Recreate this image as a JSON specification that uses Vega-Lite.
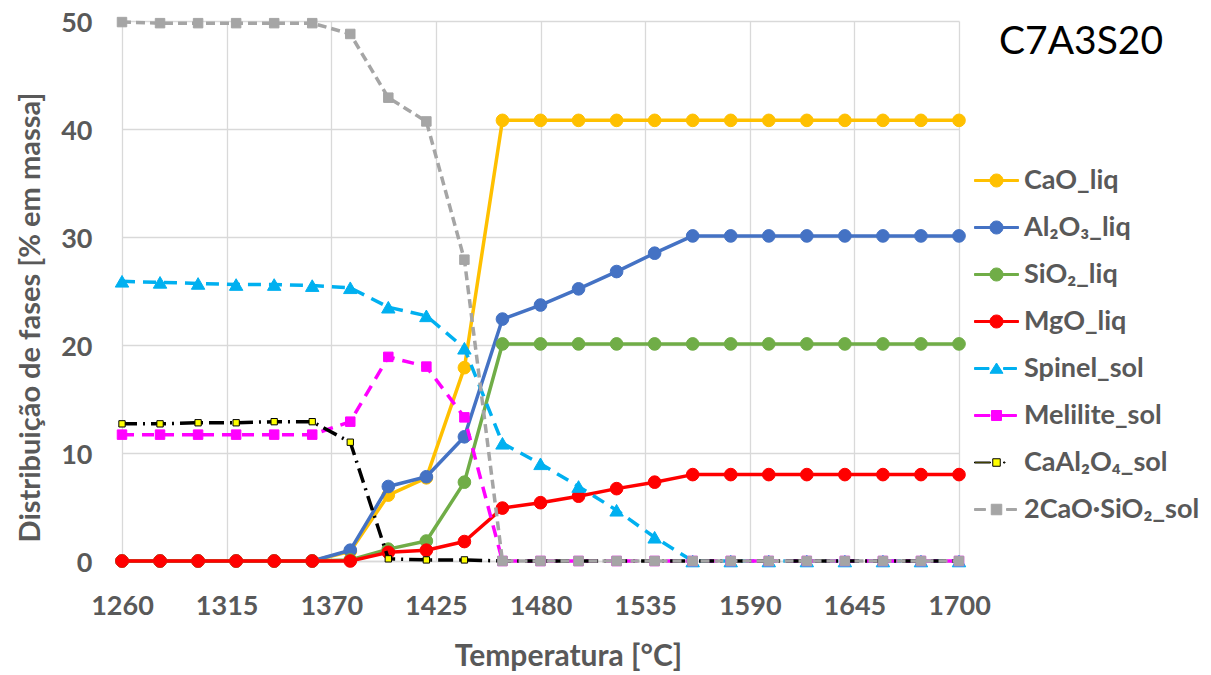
{
  "$schema": "https://vega.github.io/schema/vega-lite/v6.json",
  "width": 837,
  "height": 540,
  "autosize": "none",
  "padding": {"left": 122, "top": 21, "right": 252, "bottom": 114},
  "background": "#ffffff",
  "datasets": {
    "CaO_liq": [
      {"T": 1260, "pct": 0}, {"T": 1280, "pct": 0}, {"T": 1300, "pct": 0}, {"T": 1320, "pct": 0},
      {"T": 1340, "pct": 0}, {"T": 1360, "pct": 0}, {"T": 1380, "pct": 0.9}, {"T": 1400, "pct": 6.1},
      {"T": 1420, "pct": 7.7}, {"T": 1440, "pct": 17.9}, {"T": 1460, "pct": 40.8}, {"T": 1480, "pct": 40.8},
      {"T": 1500, "pct": 40.8}, {"T": 1520, "pct": 40.8}, {"T": 1540, "pct": 40.8}, {"T": 1560, "pct": 40.8},
      {"T": 1580, "pct": 40.8}, {"T": 1600, "pct": 40.8}, {"T": 1620, "pct": 40.8}, {"T": 1640, "pct": 40.8},
      {"T": 1660, "pct": 40.8}, {"T": 1680, "pct": 40.8}, {"T": 1700, "pct": 40.8}
    ],
    "Al2O3_liq": [
      {"T": 1260, "pct": 0}, {"T": 1280, "pct": 0}, {"T": 1300, "pct": 0}, {"T": 1320, "pct": 0},
      {"T": 1340, "pct": 0}, {"T": 1360, "pct": 0}, {"T": 1380, "pct": 1.0}, {"T": 1400, "pct": 6.9},
      {"T": 1420, "pct": 7.8}, {"T": 1440, "pct": 11.5}, {"T": 1460, "pct": 22.4}, {"T": 1480, "pct": 23.7},
      {"T": 1500, "pct": 25.2}, {"T": 1520, "pct": 26.8}, {"T": 1540, "pct": 28.5}, {"T": 1560, "pct": 30.1},
      {"T": 1580, "pct": 30.1}, {"T": 1600, "pct": 30.1}, {"T": 1620, "pct": 30.1}, {"T": 1640, "pct": 30.1},
      {"T": 1660, "pct": 30.1}, {"T": 1680, "pct": 30.1}, {"T": 1700, "pct": 30.1}
    ],
    "SiO2_liq": [
      {"T": 1260, "pct": 0}, {"T": 1280, "pct": 0}, {"T": 1300, "pct": 0}, {"T": 1320, "pct": 0},
      {"T": 1340, "pct": 0}, {"T": 1360, "pct": 0}, {"T": 1380, "pct": 0.1}, {"T": 1400, "pct": 1.1},
      {"T": 1420, "pct": 1.85}, {"T": 1440, "pct": 7.3}, {"T": 1460, "pct": 20.1}, {"T": 1480, "pct": 20.1},
      {"T": 1500, "pct": 20.1}, {"T": 1520, "pct": 20.1}, {"T": 1540, "pct": 20.1}, {"T": 1560, "pct": 20.1},
      {"T": 1580, "pct": 20.1}, {"T": 1600, "pct": 20.1}, {"T": 1620, "pct": 20.1}, {"T": 1640, "pct": 20.1},
      {"T": 1660, "pct": 20.1}, {"T": 1680, "pct": 20.1}, {"T": 1700, "pct": 20.1}
    ],
    "MgO_liq": [
      {"T": 1260, "pct": 0}, {"T": 1280, "pct": 0}, {"T": 1300, "pct": 0}, {"T": 1320, "pct": 0},
      {"T": 1340, "pct": 0}, {"T": 1360, "pct": 0}, {"T": 1380, "pct": 0}, {"T": 1400, "pct": 0.8},
      {"T": 1420, "pct": 1.0}, {"T": 1440, "pct": 1.8}, {"T": 1460, "pct": 4.9}, {"T": 1480, "pct": 5.4},
      {"T": 1500, "pct": 6.0}, {"T": 1520, "pct": 6.7}, {"T": 1540, "pct": 7.3}, {"T": 1560, "pct": 8.0},
      {"T": 1580, "pct": 8.0}, {"T": 1600, "pct": 8.0}, {"T": 1620, "pct": 8.0}, {"T": 1640, "pct": 8.0},
      {"T": 1660, "pct": 8.0}, {"T": 1680, "pct": 8.0}, {"T": 1700, "pct": 8.0}
    ],
    "Spinel_sol": [
      {"T": 1260, "pct": 25.9}, {"T": 1280, "pct": 25.8}, {"T": 1300, "pct": 25.7}, {"T": 1320, "pct": 25.6},
      {"T": 1340, "pct": 25.6}, {"T": 1360, "pct": 25.5}, {"T": 1380, "pct": 25.3}, {"T": 1400, "pct": 23.5},
      {"T": 1420, "pct": 22.7}, {"T": 1440, "pct": 19.7}, {"T": 1460, "pct": 10.9}, {"T": 1480, "pct": 9.0},
      {"T": 1500, "pct": 6.9}, {"T": 1520, "pct": 4.7}, {"T": 1540, "pct": 2.2}, {"T": 1560, "pct": 0},
      {"T": 1580, "pct": 0}, {"T": 1600, "pct": 0}, {"T": 1620, "pct": 0}, {"T": 1640, "pct": 0},
      {"T": 1660, "pct": 0}, {"T": 1680, "pct": 0}, {"T": 1700, "pct": 0}
    ],
    "Melilite_sol": [
      {"T": 1260, "pct": 11.7}, {"T": 1280, "pct": 11.7}, {"T": 1300, "pct": 11.7}, {"T": 1320, "pct": 11.7},
      {"T": 1340, "pct": 11.7}, {"T": 1360, "pct": 11.7}, {"T": 1380, "pct": 12.9}, {"T": 1400, "pct": 18.9},
      {"T": 1420, "pct": 18.0}, {"T": 1440, "pct": 13.3}, {"T": 1460, "pct": 0}, {"T": 1480, "pct": 0},
      {"T": 1500, "pct": 0}, {"T": 1520, "pct": 0}, {"T": 1540, "pct": 0}, {"T": 1560, "pct": 0},
      {"T": 1580, "pct": 0}, {"T": 1600, "pct": 0}, {"T": 1620, "pct": 0}, {"T": 1640, "pct": 0},
      {"T": 1660, "pct": 0}, {"T": 1680, "pct": 0}, {"T": 1700, "pct": 0}
    ],
    "CaAl2O4_sol": [
      {"T": 1260, "pct": 12.7}, {"T": 1280, "pct": 12.7}, {"T": 1300, "pct": 12.8}, {"T": 1320, "pct": 12.8},
      {"T": 1340, "pct": 12.9}, {"T": 1360, "pct": 12.9}, {"T": 1380, "pct": 11.0}, {"T": 1400, "pct": 0.2},
      {"T": 1420, "pct": 0.1}, {"T": 1440, "pct": 0.1}, {"T": 1460, "pct": 0}, {"T": 1480, "pct": 0},
      {"T": 1500, "pct": 0}, {"T": 1520, "pct": 0}, {"T": 1540, "pct": 0}, {"T": 1560, "pct": 0},
      {"T": 1580, "pct": 0}, {"T": 1600, "pct": 0}, {"T": 1620, "pct": 0}, {"T": 1640, "pct": 0},
      {"T": 1660, "pct": 0}, {"T": 1680, "pct": 0}, {"T": 1700, "pct": 0}
    ],
    "C2S_sol": [
      {"T": 1260, "pct": 49.9}, {"T": 1280, "pct": 49.8}, {"T": 1300, "pct": 49.8}, {"T": 1320, "pct": 49.8},
      {"T": 1340, "pct": 49.8}, {"T": 1360, "pct": 49.8}, {"T": 1380, "pct": 48.8}, {"T": 1400, "pct": 42.9},
      {"T": 1420, "pct": 40.7}, {"T": 1440, "pct": 27.9}, {"T": 1460, "pct": 0}, {"T": 1480, "pct": 0},
      {"T": 1500, "pct": 0}, {"T": 1520, "pct": 0}, {"T": 1540, "pct": 0}, {"T": 1560, "pct": 0},
      {"T": 1580, "pct": 0}, {"T": 1600, "pct": 0}, {"T": 1620, "pct": 0}, {"T": 1640, "pct": 0},
      {"T": 1660, "pct": 0}, {"T": 1680, "pct": 0}, {"T": 1700, "pct": 0}
    ]
  },
  "encoding": {
    "x": {
      "field": "T",
      "type": "quantitative",
      "scale": {"domain": [1260, 1700], "nice": false, "zero": false},
      "axis": {
        "values": [1260, 1315, 1370, 1425, 1480, 1535, 1590, 1645, 1700],
        "format": "d",
        "title": "Temperatura [°C]",
        "grid": true,
        "gridColor": "#D9D9D9",
        "gridWidth": 1.3,
        "domain": true,
        "domainColor": "#D9D9D9",
        "domainWidth": 1.3,
        "ticks": false,
        "tickSize": 0,
        "labelFont": "Lato",
        "labelFontSize": 27,
        "labelFontWeight": "bold",
        "labelColor": "#595959",
        "labelBaseline": "alphabetic",
        "labelPadding": 53,
        "labelFlush": false,
        "labelOverlap": false,
        "titleFont": "Lato",
        "titleFontSize": 30,
        "titleFontWeight": "bold",
        "titleColor": "#595959",
        "titleX": 446,
        "titleY": 104,
        "titleAlign": "center",
        "titleBaseline": "alphabetic"
      }
    },
    "y": {
      "field": "pct",
      "type": "quantitative",
      "scale": {"domain": [0, 50], "nice": false},
      "axis": {
        "values": [0, 10, 20, 30, 40, 50],
        "title": "Distribuição de fases [% em massa]",
        "grid": true,
        "gridColor": "#D9D9D9",
        "gridWidth": 1.3,
        "domain": false,
        "ticks": false,
        "tickSize": 0,
        "labelFont": "Lato",
        "labelFontSize": 27,
        "labelFontWeight": "bold",
        "labelColor": "#595959",
        "labelBaseline": "alphabetic",
        "labelOffset": 10,
        "labelPadding": 30,
        "labelFlush": false,
        "labelOverlap": false,
        "titleFont": "Lato",
        "titleFontSize": 29,
        "titleFontWeight": "bold",
        "titleColor": "#595959",
        "titleX": -83,
        "titleY": 296,
        "titleAngle": 270,
        "titleAlign": "center",
        "titleBaseline": "alphabetic"
      }
    }
  },
  "layer": [
    {
      "data": {"name": "CaO_liq"},
      "layer": [
        {"mark": {"type": "line", "stroke": "#FFC000", "strokeWidth": 3.5, "strokeJoin": "round"}, "encoding": {}},
        {"mark": {"type": "point", "shape": "circle", "filled": true, "fill": "#FFC000", "stroke": "#FFC000", "strokeWidth": 1, "size": 160, "opacity": 1}, "encoding": {}}
      ]
    },
    {
      "data": {"name": "Al2O3_liq"},
      "layer": [
        {"mark": {"type": "line", "stroke": "#4472C4", "strokeWidth": 3.5, "strokeJoin": "round"}, "encoding": {}},
        {"mark": {"type": "point", "shape": "circle", "filled": true, "fill": "#4472C4", "stroke": "#4472C4", "strokeWidth": 1, "size": 160, "opacity": 1}, "encoding": {}}
      ]
    },
    {
      "data": {"name": "SiO2_liq"},
      "layer": [
        {"mark": {"type": "line", "stroke": "#70AD47", "strokeWidth": 3.5, "strokeJoin": "round"}, "encoding": {}},
        {"mark": {"type": "point", "shape": "circle", "filled": true, "fill": "#70AD47", "stroke": "#70AD47", "strokeWidth": 1, "size": 160, "opacity": 1}, "encoding": {}}
      ]
    },
    {
      "data": {"name": "MgO_liq"},
      "layer": [
        {"mark": {"type": "line", "stroke": "#FF0000", "strokeWidth": 3.5, "strokeJoin": "round"}, "encoding": {}},
        {"mark": {"type": "point", "shape": "circle", "filled": true, "fill": "#FF0000", "stroke": "#FF0000", "strokeWidth": 1, "size": 160, "opacity": 1}, "encoding": {}}
      ]
    },
    {
      "data": {"name": "Spinel_sol"},
      "layer": [
        {"mark": {"type": "line", "stroke": "#00B0F0", "strokeWidth": 3.5, "strokeDash": [13, 8], "strokeCap": "butt", "strokeJoin": "round"}, "encoding": {}},
        {"mark": {"type": "point", "shape": "triangle-up", "filled": true, "fill": "#00B0F0", "stroke": "#00B0F0", "strokeWidth": 1, "size": 180, "opacity": 1}, "encoding": {}}
      ]
    },
    {
      "data": {"name": "Melilite_sol"},
      "layer": [
        {"mark": {"type": "line", "stroke": "#FF00FF", "strokeWidth": 3.5, "strokeDash": [12, 8], "strokeCap": "butt", "strokeJoin": "round"}, "encoding": {}},
        {"mark": {"type": "point", "shape": "square", "filled": true, "fill": "#FF00FF", "stroke": "#FF00FF", "strokeWidth": 1, "size": 90, "opacity": 1}, "encoding": {}}
      ]
    },
    {
      "data": {"name": "CaAl2O4_sol"},
      "layer": [
        {"mark": {"type": "line", "stroke": "#000000", "strokeWidth": 3.5, "strokeDash": [15, 6, 2, 6], "strokeCap": "butt", "strokeJoin": "round"}, "encoding": {}},
        {"mark": {"type": "point", "shape": "square", "filled": true, "fill": "#FFFF00", "stroke": "#000000", "strokeWidth": 1, "size": 40, "opacity": 1}, "encoding": {}}
      ]
    },
    {
      "data": {"name": "C2S_sol"},
      "layer": [
        {"mark": {"type": "line", "stroke": "#A5A5A5", "strokeWidth": 3.5, "strokeDash": [9, 5], "strokeCap": "butt", "strokeJoin": "round"}, "encoding": {}},
        {"mark": {"type": "point", "shape": "square", "filled": true, "fill": "#A5A5A5", "stroke": "#A5A5A5", "strokeWidth": 1, "size": 90, "opacity": 1}, "encoding": {}}
      ]
    },
    {
      "data": {"values": []},
      "mark": {"type": "point", "filled": true, "opacity": 1, "strokeWidth": 1},
      "encoding": {
        "fill": {
          "field": "phase",
          "type": "nominal",
          "scale": {
            "domain": ["CaO_liq", "Al₂O₃_liq", "SiO₂_liq", "MgO_liq", "Spinel_sol", "Melilite_sol", "CaAl₂O₄_sol", "2CaO·SiO₂_sol"],
            "range": ["#FFC000", "#4472C4", "#70AD47", "#FF0000", "#00B0F0", "#FF00FF", "#FFFF00", "#A5A5A5"]
          },
          "legend": {"title": "C7A3S20", "orient": "none", "legendX": 841, "legendY": 2}
        },
        "stroke": {
          "field": "phase",
          "type": "nominal",
          "scale": {
            "domain": ["CaO_liq", "Al₂O₃_liq", "SiO₂_liq", "MgO_liq", "Spinel_sol", "Melilite_sol", "CaAl₂O₄_sol", "2CaO·SiO₂_sol"],
            "range": ["#FFC000", "#4472C4", "#70AD47", "#FF0000", "#00B0F0", "#FF00FF", "#000000", "#A5A5A5"]
          },
          "legend": {"title": "C7A3S20", "orient": "none", "legendX": 841, "legendY": 2}
        },
        "shape": {
          "field": "phase",
          "type": "nominal",
          "scale": {
            "domain": ["CaO_liq", "Al₂O₃_liq", "SiO₂_liq", "MgO_liq", "Spinel_sol", "Melilite_sol", "CaAl₂O₄_sol", "2CaO·SiO₂_sol"],
            "range": [
              "M-4.4,-0.2H-1.2V0.2H-4.4Z M1.2,-0.2H4.4V0.2H1.2Z M1.3,0A1.3,1.3,0,1,1,-1.3,0A1.3,1.3,0,1,1,1.3,0Z",
              "M-4.4,-0.2H-1.2V0.2H-4.4Z M1.2,-0.2H4.4V0.2H1.2Z M1.3,0A1.3,1.3,0,1,1,-1.3,0A1.3,1.3,0,1,1,1.3,0Z",
              "M-4.4,-0.2H-1.2V0.2H-4.4Z M1.2,-0.2H4.4V0.2H1.2Z M1.3,0A1.3,1.3,0,1,1,-1.3,0A1.3,1.3,0,1,1,1.3,0Z",
              "M-4.4,-0.2H-1.2V0.2H-4.4Z M1.2,-0.2H4.4V0.2H1.2Z M1.3,0A1.3,1.3,0,1,1,-1.3,0A1.3,1.3,0,1,1,1.3,0Z",
              "M-4.4,-0.2H-1.5V0.2H-4.4Z M1.4,-0.2H4.0V0.2H1.4Z M0,-1.1L1.3,0.95L-1.3,0.95Z",
              "M-4.4,-0.2H-1.3V0.2H-4.4Z M1.1,-0.2H4.0V0.2H1.1Z M-1,-1H1V1H-1Z",
              "M-4.4,-0.1H-1.2V0.1H-4.4Z M1.4,-0.1H1.7V0.1H1.4Z M-0.75,-0.75H0.75V0.75H-0.75Z",
              "M-4.4,-0.2H-2.2V0.2H-4.4Z M2.0,-0.2H4.0V0.2H2.0Z M-1.05,-1.05H1.05V1.05H-1.05Z"
            ]
          },
          "legend": {"title": "C7A3S20", "orient": "none", "legendX": 841, "legendY": 2}
        }
      }
    }
  ],
  "config": {
    "view": {"stroke": null},
    "font": "Lato",
    "legend": {
      "padding": 0,
      "titleFont": "Lato",
      "titleFontSize": 39,
      "titleFontWeight": "normal",
      "titleColor": "#000000",
      "titleAnchor": "middle",
      "titleAlign": "center",
      "titleLimit": 400,
      "titlePadding": 105,
      "symbolSize": 100,
      "symbolOffset": 20,
      "symbolStrokeWidth": 1,
      "symbolOpacity": 1,
      "labelFont": "Lato",
      "labelFontSize": 27,
      "labelFontWeight": "bold",
      "labelColor": "#595959",
      "labelOffset": 14,
      "labelLimit": 300,
      "rowPadding": 19
    }
  }
}
